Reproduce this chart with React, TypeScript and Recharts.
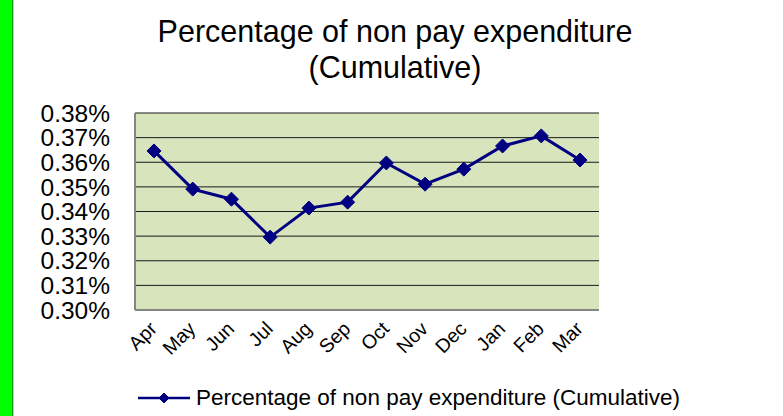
import { LineChart, Line, XAxis, YAxis, CartesianGrid } from 'recharts';

const months = ['Apr', 'May', 'Jun', 'Jul', 'Aug', 'Sep', 'Oct', 'Nov', 'Dec', 'Jan', 'Feb', 'Mar'];
const nonPayPct = [0.3646, 0.3491, 0.345, 0.3296, 0.3414, 0.3438, 0.3597, 0.3511, 0.3572, 0.3666, 0.3707, 0.3609];
const yTicks = [0.3, 0.31, 0.32, 0.33, 0.34, 0.35, 0.36, 0.37, 0.38];

const SERIES_NAME = 'Percentage of non pay expenditure (Cumulative)';
const FONT = '"Liberation Sans", Arial, sans-serif';
const NAVY = '#000080';
const FRAME = '#858585';

const data = months.map((month, i) => ({ month, value: nonPayPct[i] }));

const Diamond = ({ cx, cy, half = 7 }: { cx?: number; cy?: number; half?: number }) => {
    if (cx == null || cy == null) return null;
    return (
        <polygon
            points={`${cx},${cy - half} ${cx + half},${cy} ${cx},${cy + half} ${cx - half},${cy}`}
            fill={NAVY}
            stroke={NAVY}
        />
    );
};

const MonthTick = ({ x, y, payload }: any) => (
    <g transform={`translate(${x + 4},${y + 12})`}>
        <text
            textAnchor="end"
            transform="rotate(-45)"
            fontFamily={FONT}
            fontSize={19.5}
            fill="#000"
        >
            {payload.value}
        </text>
    </g>
);

export default function App() {
    return (
        <div style={{ position: 'absolute', left: 0, top: 0, width: 783, height: 416, background: '#fff', fontFamily: FONT }}>
            <div style={{ position: 'absolute', left: 0, top: 0, width: 12, height: 416, background: '#00ff00', borderRight: '1px solid #1f9a1f' }} />
            <div style={{ position: 'absolute', left: 13, top: 0, width: 1, height: 416, background: '#c8c8c8' }} />

            <div style={{ position: 'absolute', left: 0, top: 13, width: 790, textAlign: 'center', fontSize: 30.5, lineHeight: '36px', color: '#000' }}>
                Percentage of non pay expenditure
                <br />
                (Cumulative)
            </div>

            <LineChart
                width={783}
                height={416}
                data={data}
                margin={{ top: 113, right: 184, bottom: 46, left: 35 }}
            >
                <CartesianGrid vertical={false} stroke="#1a1a1a" fill="#d8e4bc" />
                <XAxis
                    dataKey="month"
                    height={60}
                    padding={{ left: 19, right: 19 }}
                    interval={0}
                    tickLine={false}
                    axisLine={{ stroke: FRAME, strokeWidth: 2 }}
                    tick={<MonthTick />}
                />
                <XAxis
                    xAxisId="top"
                    dataKey="month"
                    orientation="top"
                    height={0}
                    tick={false}
                    tickLine={false}
                    axisLine={{ stroke: FRAME, strokeWidth: 2 }}
                />
                <YAxis
                    width={100}
                    domain={[0.3, 0.38]}
                    ticks={yTicks}
                    interval={0}
                    tickLine={false}
                    tickSize={6}
                    tickMargin={19}
                    axisLine={{ stroke: FRAME, strokeWidth: 2 }}
                    tickFormatter={(v: number) => `${v.toFixed(2)}%`}
                    tick={{ fill: '#000', fontSize: 24.5, fontFamily: FONT }}
                />
                <YAxis
                    yAxisId="right"
                    orientation="right"
                    width={0}
                    domain={[0.3, 0.38]}
                    tick={false}
                    tickLine={false}
                    axisLine={{ stroke: FRAME, strokeWidth: 2 }}
                />
                <Line
                    dataKey="value"
                    name={SERIES_NAME}
                    stroke={NAVY}
                    strokeWidth={3}
                    dot={<Diamond half={7} />}
                    activeDot={false}
                    isAnimationActive={false}
                />
            </LineChart>

            <div style={{ position: 'absolute', left: 138, top: 386, height: 24, display: 'flex', alignItems: 'center', fontSize: 22.5, color: '#000', whiteSpace: 'nowrap' }}>
                <svg width={54} height={24} style={{ marginRight: 4 }}>
                    <line x1={0} y1={12} x2={52} y2={12} stroke={NAVY} strokeWidth={2.5} />
                    <Diamond cx={26} cy={12} half={5} />
                </svg>
                {SERIES_NAME}
            </div>
        </div>
    );
}
